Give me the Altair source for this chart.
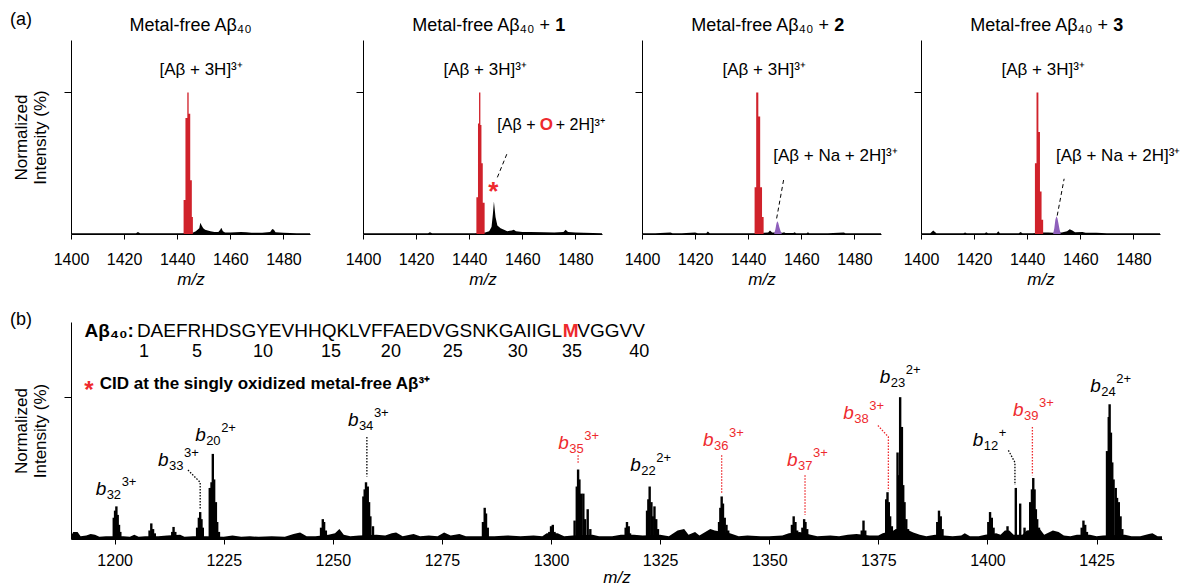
import altair as alt
import pandas as pd

FONT = "Liberation Sans"
RED = "#d0222b"
RED_TXT = "#ee2a2e"
PURPLE = "#8e5fbb"
BLACK = "#000000"

TOP_W, TOP_H = 239, 194
BOT_W, BOT_H = 1091, 217

TOP_X_DOMAIN = [1400, 1490]
TOP_X_TICKS = [1400, 1420, 1440, 1460, 1480]
TOP_Y_DOMAIN = [0, 137]
BOT_X_DOMAIN = [1190, 1440]
BOT_X_TICKS = [1200, 1225, 1250, 1275, 1300, 1325, 1350, 1375, 1400, 1425]
BOT_Y_DOMAIN = [0, 153]
Y_TICKS = [100]
Y_TITLE = ["Normalized", "Intensity (%)"]

# ---------------- top row data ----------------
P1_MZ = [1400, 1410, 1420, 1424.5, 1425.2, 1426, 1435, 1442, 1446, 1447, 1448.3, 1448.7, 1449.2, 1449.8,
         1450.5, 1451.5, 1452.5, 1454, 1455.5, 1456.2, 1456.6, 1457.2, 1458, 1460, 1462, 1464, 1466,
         1468, 1472, 1475, 1475.8, 1476.4, 1477, 1480, 1485, 1490]
P1_I = [0.5, 0.5, 0.6, 0.6, 1.5, 0.6, 0.6, 0.6, 1, 2, 4, 8, 6, 4,
        3, 2.5, 2, 1.5, 1.5, 3, 4.5, 2, 1, 1, 1.2, 1.5, 1.2,
        0.8, 0.8, 1.5, 3.5, 3, 1.2, 0.8, 0.6, 0.5]
P1_RED_X0 = [1442.4, 1443.1, 1443.8, 1444.3, 1444.9, 1445.5]
P1_RED_X1 = [1443.1, 1443.8, 1444.3, 1444.9, 1445.5, 1445.9]
P1_RED_I = [24, 82, 100, 85, 38, 12]

P2_MZ = [1400, 1410, 1420, 1424.5, 1425.2, 1426, 1435, 1442, 1446, 1447.5, 1448.4, 1448.9, 1449.3, 1449.9,
         1450.6, 1451.8, 1453.1, 1454.3, 1456.0, 1456.8, 1457.6, 1460, 1463.1, 1468.1, 1472, 1475.5,
         1476.3, 1477.2, 1480, 1483.2, 1490]
P2_I = [0.5, 0.5, 0.6, 0.6, 1.2, 0.6, 0.6, 0.6, 1, 2, 5, 14, 23, 12,
        6, 4, 3, 2, 2.5, 3, 2, 1.5, 1.5, 1.2, 1, 1.5,
        3, 1.5, 1, 0.8, 0.6]
P2_RED_X0 = [1442.7, 1443.3, 1443.7, 1444.2, 1444.6, 1445.1]
P2_RED_X1 = [1443.3, 1443.7, 1444.2, 1444.6, 1445.1, 1445.8]
P2_RED_I = [26, 78, 100, 77, 50, 22]

P3_MZ = [1400, 1405, 1410.7, 1411.5, 1415, 1420, 1421, 1424.2, 1424.8, 1425.5, 1430, 1435, 1442, 1446,
         1447.5, 1448.2, 1449, 1453, 1453.5, 1454, 1457, 1457.5, 1458, 1462, 1462.5, 1463, 1466, 1470,
         1476, 1476.6, 1477, 1482, 1490]
P3_I = [0.5, 0.5, 1, 0.5, 0.5, 1, 0.5, 0.5, 1.8, 0.5, 0.5, 0.5, 0.5, 0.8,
        1, 2.4, 1, 0.8, 1.3, 0.7, 0.7, 1.2, 0.6, 0.6, 1.2, 0.6, 0.5, 0.5,
        1, 0.5, 0.5, 0.5, 0.5]
P3_RED_X0 = [1442.4, 1443.0, 1443.8, 1444.5, 1445.2]
P3_RED_X1 = [1443.0, 1443.8, 1444.5, 1445.2, 1445.8]
P3_RED_I = [33, 100, 83, 33, 12]
P3_PUR_MZ = [1449.8, 1450.2, 1450.6, 1450.9, 1451.3, 1451.7, 1452.2, 1452.6]
P3_PUR_I = [0.5, 3, 7, 9, 8, 5, 2, 0.5]

P4_MZ = [1400, 1403.5, 1404.6, 1405.8, 1410, 1416, 1416.6, 1417.2, 1424, 1424.6, 1425.2, 1428.5, 1429.1,
         1429.7, 1436.8, 1437.5, 1438.2, 1442, 1446, 1448, 1449.5, 1453, 1455, 1456, 1457, 1458, 1460.8,
         1462, 1466, 1470, 1480, 1490]
P4_I = [0.5, 0.6, 2.4, 0.6, 0.5, 0.5, 1, 0.5, 0.5, 1.3, 0.5, 0.6, 2,
        0.6, 0.6, 1.5, 0.6, 0.5, 1, 1, 0.8, 1, 2, 3.3, 2.5, 1.2, 1.5,
        0.8, 0.8, 0.6, 0.5, 0.5]
P4_RED_X0 = [1442.9, 1443.5, 1444.2, 1444.8, 1445.4]
P4_RED_X1 = [1443.5, 1444.2, 1444.8, 1445.4, 1446.0]
P4_RED_I = [50, 100, 72, 30, 10]
P4_PUR_MZ = [1449.8, 1450.2, 1450.6, 1451.0, 1451.4, 1451.8, 1452.2, 1452.6]
P4_PUR_I = [0.5, 4, 10, 12.5, 11, 7, 3, 0.5]

MAIN_LABEL = "[Aβ + 3H]³⁺"
MAIN_LABEL_MZ = [1449, 1446, 1446, 1446]
MAIN_LABEL_I = 116
TITLE_MAIN = "Metal-free Aβ₄₀"
TITLE_PLUS = "Metal-free Aβ₄₀ +"
TITLE_BOLD = ["", "1", "2", "3"]
TITLE_I = 147

# dashed leader lines of the top row (panels 2-4)
DASH_X0 = [1450.6, 1450.7, 1451.3]
DASH_I0 = [40, 11, 13]
DASH_X1 = [1454.5, 1453.5, 1453.9]
DASH_I1 = [58, 40, 39]

OX_PARTS = ["[Aβ +", "O", "+ 2H]³⁺"]
OX_MZ = [1450.6, 1466.6, 1472.6]
OX_I = 77
NA_LABEL = "[Aβ + Na + 2H]³⁺"
NA_MZ = [1449.4, 1450.8]
NA_I = [55, 55]
STAR_MZ, STAR_I = 1449.1, 35

# ---------------- bottom data ----------------
BASE_MZ = [1190, 1190.5, 1191.5, 1192.2, 1193.5, 1194.5, 1195.5, 1196.5, 1198, 1202, 1203.5, 1204.5, 1205.5,
           1207, 1210, 1212, 1215, 1216, 1218, 1221, 1225, 1227, 1229, 1231, 1233, 1236, 1239, 1241,
           1242.5, 1244, 1246, 1249, 1250.5, 1251.5, 1252.5, 1254, 1256, 1260, 1262, 1263.5, 1264.5, 1266,
           1268.5, 1270, 1272, 1274, 1275.5, 1277, 1279, 1280.5, 1283, 1287, 1290, 1293, 1296, 1298, 1299,
           1301.5, 1303, 1305, 1309.5, 1311, 1314, 1316, 1319, 1321, 1325, 1327, 1329, 1330.5, 1331.5, 1333,
           1334, 1336.5, 1337.5, 1341, 1343, 1345, 1348, 1350, 1353, 1354.5, 1357, 1359.5, 1361, 1364, 1366,
           1368, 1370, 1373, 1375, 1376, 1378.5, 1379, 1382, 1383, 1384.5, 1386, 1388, 1390, 1392, 1394,
           1394.8, 1396, 1398, 1399.5, 1402, 1403, 1404, 1405, 1406, 1408, 1409, 1412, 1413, 1415, 1416.3,
           1417.5, 1419, 1420.5, 1423.5, 1425, 1426.5, 1431.5, 1433, 1435, 1437, 1437.8, 1439, 1440]
BASE_I = [2, 5, 5, 2, 2.5, 3.5, 3, 1.5, 2, 2, 1.5, 3, 1.5,
          2, 2, 2.5, 3, 1.5, 2, 2, 1.5, 2.5, 1.5, 2, 1.5, 2, 1.5, 3.5,
          4.5, 2, 2, 3, 4, 7, 3, 2, 2.5, 3, 2.5, 4, 4.5, 2,
          3.5, 2, 2.5, 2, 4.5, 2.5, 3.5, 2, 2, 2, 2.5, 2, 2.5, 2, 4,
          4, 2, 2.5, 3, 2, 2, 3, 3, 2.5, 3, 2, 6, 7, 3, 5,
          2.5, 7, 6, 4, 2, 2.5, 2, 2, 2.5, 4, 5, 3, 2, 2.5, 2,
          3, 3.5, 2.5, 2.5, 4, 6, 7, 6, 4.5, 3, 2, 3, 2.5, 2, 2.5,
          4, 2, 2, 3, 4, 3, 6, 6, 3, 3, 6, 7, 3, 6, 5,
          2.5, 2, 3, 3, 2, 2.5, 3, 2, 2, 3.5, 4, 2, 2]

STICK_MZ = [1199.8, 1200.1, 1200.4, 1200.7, 1201.0, 1201.3,
            1208.0, 1208.4, 1208.8, 1209.2,
            1213.2, 1213.5, 1213.9,
            1218.9, 1219.3, 1219.6, 1219.9, 1220.2,
            1221.8, 1222.2, 1222.5, 1222.8, 1223.2, 1223.5, 1223.9,
            1247.3, 1247.7, 1248.0, 1248.4,
            1257.0, 1257.3, 1257.6, 1258.0, 1258.3, 1258.6, 1259.2,
            1284.4, 1284.8, 1285.1, 1285.5,
            1299.6, 1300.0, 1300.4, 1300.8,
            1305.4, 1305.9, 1306.2, 1306.5, 1306.9, 1307.4, 1307.8, 1308.4, 1309.0,
            1317.1, 1317.4, 1317.8, 1318.1,
            1322.0, 1322.3, 1322.6, 1323.0, 1323.3, 1323.7, 1324.1, 1324.5,
            1338.5, 1338.8, 1339.1, 1339.4, 1339.8, 1340.2, 1340.6,
            1355.2, 1355.6, 1356.0, 1356.4,
            1357.6, 1358.0, 1358.3, 1358.7,
            1371.2, 1371.6, 1372.0,
            1376.8, 1377.1, 1377.4, 1377.7, 1378.1,
            1379.4, 1379.7, 1380.0, 1380.4, 1380.7, 1381.0, 1381.4, 1381.8,
            1388.5, 1388.9, 1389.3, 1389.7,
            1400.2, 1400.6, 1401.0, 1401.4,
            1404.2, 1404.6, 1405.0,
            1406.5, 1407.5, 1408.5,
            1409.8, 1410.2, 1410.5, 1410.8, 1411.1, 1411.4, 1411.8,
            1421.6, 1422.0, 1422.4, 1422.8,
            1427.4, 1427.8, 1428.0, 1428.3, 1428.6, 1428.9, 1429.4, 1429.7, 1430.1, 1430.5, 1430.9]
STICK_I = [15, 20, 23, 17, 10, 5,
           6, 11, 7, 4,
           5, 8.5, 5,
           8, 15, 19, 14, 8,
           36, 40, 60, 42, 26, 12, 5,
           8, 14, 12, 6,
           30, 35, 40, 37, 26, 16, 9,
           12, 22, 18, 8,
           5, 9, 10, 5,
           13, 37, 49, 42, 32, 32, 14, 21, 7,
           8, 12, 9, 4,
           20, 28, 37, 26, 16, 23, 14, 7,
           12, 22, 30, 25, 15, 10, 6,
           10, 16, 12, 6,
           8, 14, 12, 7,
           6, 13, 6,
           28, 33, 26, 16, 9,
           61, 45, 100, 79, 38, 26, 14, 7,
           12, 20, 16, 7,
           12, 19, 15, 8,
           5, 9, 5,
           36, 25, 8,
           26, 35, 43, 35, 21, 14, 8,
           8, 13, 10, 5,
           62, 86, 95, 75, 54, 42, 36, 29, 26, 16, 7]

# fragment labels: italic "b", subscript index, superscript charge
B_LABEL_SUB = ["32", "33", "20", "34", "35", "22", "36", "37", "38", "23", "12", "39", "24"]
B_LABEL_SUP = ["3+", "3+", "2+", "3+", "3+", "2+", "3+", "3+", "3+", "2+", "+", "3+", "2+"]
B_LABEL_MZ = [1200.0, 1214.3, 1222.8, 1257.8, 1306.0, 1322.5, 1339.2, 1358.4, 1371.3, 1379.7, 1401.0, 1410.2, 1427.9]
B_LABEL_I = [35, 56, 73, 84, 68, 52, 70, 56, 89, 114, 70, 91, 108]
B_LABEL_RED = [0, 0, 0, 0, 1, 0, 1, 1, 1, 0, 0, 1, 0]

LEAD_ID = ["b33", "b33", "b33", "b34", "b34", "b35", "b35", "b36", "b36", "b37", "b37",
           "b38", "b38", "b38", "b12", "b12", "b12", "b39", "b39"]
LEAD_MZ = [1216.8, 1219.6, 1219.6, 1257.8, 1257.8, 1306.2, 1306.2, 1339.1, 1339.1, 1358.2, 1358.2,
           1374.9, 1377.3, 1377.3, 1404.8, 1406.3, 1406.3, 1410.3, 1410.3]
LEAD_I = [48.6, 40, 20.4, 72, 44, 59, 53, 59, 32, 45, 17,
          80, 72, 34, 62.5, 54, 38, 79, 45]
LEAD_RED = [0, 0, 0, 0, 0, 1, 1, 1, 1, 1, 1, 1, 1, 1, 0, 0, 0, 1, 1]

SEQ_HEAD = "Aβ₄₀:"
SEQ_PARTS = ["DAEFRHDSGYEVHHQKLVFFAEDVGSNKGAIIGL", "M", "VGGVV"]
SEQ_MZ = [1205.1, 1302.7, 1306.0]
SEQ_I = 147
SEQ_NUM = ["1", "5", "10", "15", "20", "25", "30", "35", "40"]
SEQ_NUM_MZ = [1206.7, 1218.9, 1234.0, 1249.6, 1263.3, 1277.5, 1292.4, 1304.8, 1320.2]
SEQ_NUM_I = 132
CID_TEXT = "CID at the singly oxidized metal-free Aβ³⁺"
CID_MZ, CID_STAR_MZ, CID_I = 1196.6, 1194.1, 109


# ---------------- helpers ----------------
def x_axis(ticks, lab_pad, title_pad):
    return alt.Axis(values=ticks, format="d", title="m/z", titleFontStyle="italic",
                    titleFontWeight="normal", titleFontSize=17, labelFontSize=16, tickSize=5,
                    labelPadding=lab_pad, titlePadding=title_pad, grid=False, labelOverlap=False,
                    labelFlush=False)


def y_axis(with_title):
    if with_title:
        return alt.Axis(values=Y_TICKS, labels=False, tickSize=7, grid=False, title=Y_TITLE,
                        titleFontSize=17, titleFontWeight="normal", titlePadding=14,
                        titleLineHeight=19)
    return alt.Axis(values=Y_TICKS, labels=False, tickSize=7, grid=False, title=None)


def text_layer(df, **kw):
    return alt.Chart(df).mark_text(font=FONT, baseline="middle", **kw).encode(
        x="mz:Q", y="I:Q", text="t:N")


def top_panel(k, bmz, bi, rx0, rx1, ri, pmz=None, pi=None):
    xs = alt.Scale(domain=TOP_X_DOMAIN, nice=False, zero=False)
    ys = alt.Scale(domain=TOP_Y_DOMAIN, nice=False)
    base = alt.Chart(pd.DataFrame({"mz": bmz, "I": bi})).mark_area(color=BLACK).encode(
        x=alt.X("mz:Q", scale=xs, axis=x_axis(TOP_X_TICKS, 12, 4)),
        y=alt.Y("I:Q", scale=ys, axis=y_axis(k == 0)))
    layers = [base]
    # red isotope envelope as a step area: each level holds from x0 to the next edge
    red_df = pd.DataFrame({"mz": list(rx0) + [rx1[-1]], "I": list(ri) + [0]})
    red = alt.Chart(red_df).mark_area(color=RED, interpolate="step-after").encode(x="mz:Q", y="I:Q")
    layers.append(red)
    if pmz is not None:
        pur = alt.Chart(pd.DataFrame({"mz": pmz, "I": pi})).mark_area(color=PURPLE).encode(
            x="mz:Q", y="I:Q")
        layers.append(pur)
    layers.append(text_layer(pd.DataFrame({"mz": [MAIN_LABEL_MZ[k]], "I": [MAIN_LABEL_I], "t": [MAIN_LABEL]}),
                             fontSize=17, align="center"))
    if k == 0:
        layers.append(text_layer(pd.DataFrame({"mz": [1445], "I": [TITLE_I], "t": [TITLE_MAIN]}),
                                 fontSize=18, align="center"))
        layers.append(alt.Chart(pd.DataFrame({"t": ["(a)"]})).mark_text(
            font=FONT, fontSize=18, align="left", baseline="middle").encode(
            x=alt.value(-61), y=alt.value(-20), text="t:N"))
    else:
        layers.append(text_layer(pd.DataFrame({"mz": [1470.4], "I": [TITLE_I], "t": [TITLE_PLUS]}),
                                 fontSize=18, align="right"))
        layers.append(text_layer(pd.DataFrame({"mz": [1472.4], "I": [TITLE_I], "t": [TITLE_BOLD[k]]}),
                                 fontSize=18, align="left", fontWeight="bold"))
        j = k - 1
        layers.append(alt.Chart(pd.DataFrame({"mz": [DASH_X0[j]], "I": [DASH_I0[j]],
                                              "mz2": [DASH_X1[j]], "I2": [DASH_I1[j]]}))
                      .mark_rule(color=BLACK, strokeDash=[4, 3], strokeWidth=1)
                      .encode(x="mz:Q", y="I:Q", x2="mz2:Q", y2="I2:Q"))
    if k == 1:
        layers.append(text_layer(pd.DataFrame({"mz": [OX_MZ[0], OX_MZ[2]], "I": [OX_I, OX_I],
                                               "t": [OX_PARTS[0], OX_PARTS[2]]}),
                                 fontSize=16, align="left"))
        layers.append(text_layer(pd.DataFrame({"mz": [OX_MZ[1]], "I": [OX_I], "t": [OX_PARTS[1]]}),
                                 fontSize=17, align="left", fontWeight="bold", color=RED_TXT))
        layers.append(text_layer(pd.DataFrame({"mz": [STAR_MZ], "I": [STAR_I], "t": ["*"]}),
                                 fontSize=26, align="center", fontWeight="bold", color=RED_TXT, dy=8))
    if k >= 2:
        layers.append(text_layer(pd.DataFrame({"mz": [NA_MZ[k - 2]], "I": [NA_I[k - 2]], "t": [NA_LABEL]}),
                                 fontSize=17, align="left"))
    return alt.layer(*layers).properties(width=TOP_W, height=TOP_H)


p1 = top_panel(0, P1_MZ, P1_I, P1_RED_X0, P1_RED_X1, P1_RED_I)
p2 = top_panel(1, P2_MZ, P2_I, P2_RED_X0, P2_RED_X1, P2_RED_I)
p3 = top_panel(2, P3_MZ, P3_I, P3_RED_X0, P3_RED_X1, P3_RED_I, P3_PUR_MZ, P3_PUR_I)
p4 = top_panel(3, P4_MZ, P4_I, P4_RED_X0, P4_RED_X1, P4_RED_I, P4_PUR_MZ, P4_PUR_I)

# ---------------- bottom panel ----------------
bxs = alt.Scale(domain=BOT_X_DOMAIN, nice=False, zero=False)
bys = alt.Scale(domain=BOT_Y_DOMAIN, nice=False)
b_base = alt.Chart(pd.DataFrame({"mz": BASE_MZ, "I": BASE_I})).mark_area(color=BLACK).encode(
    x=alt.X("mz:Q", scale=bxs, axis=x_axis(BOT_X_TICKS, 8, 1)),
    y=alt.Y("I:Q", scale=bys, axis=y_axis(True)))
b_sticks = alt.Chart(pd.DataFrame({"mz": STICK_MZ, "I": STICK_I})).mark_rule(
    color=BLACK, strokeWidth=2.4).encode(x="mz:Q", y="I:Q", y2=alt.datum(0))

lab_df = pd.DataFrame({"mz": B_LABEL_MZ, "I": B_LABEL_I, "sub": B_LABEL_SUB, "sup": B_LABEL_SUP,
                       "b": ["b"] * len(B_LABEL_MZ),
                       "c": [RED_TXT if r else BLACK for r in B_LABEL_RED]})
lab_base = alt.Chart(lab_df)
b_lab_b = lab_base.mark_text(font=FONT, fontSize=19, fontStyle="italic", baseline="middle",
                             align="left", dx=-19).encode(
    x="mz:Q", y="I:Q", text="b:N", color=alt.Color("c:N", scale=None))
b_lab_sub = lab_base.mark_text(font=FONT, fontSize=13, baseline="middle", align="left",
                               dx=-8, dy=6).encode(
    x="mz:Q", y="I:Q", text="sub:N", color=alt.Color("c:N", scale=None))
b_lab_sup = lab_base.mark_text(font=FONT, fontSize=13, baseline="middle", align="left",
                               dx=7, dy=-7).encode(
    x="mz:Q", y="I:Q", text="sup:N", color=alt.Color("c:N", scale=None))

lead_df = pd.DataFrame({"id": LEAD_ID, "mz": LEAD_MZ, "I": LEAD_I, "k": list(range(len(LEAD_ID))),
                        "c": [RED_TXT if r else BLACK for r in LEAD_RED]})
b_leads = alt.Chart(lead_df).mark_line(strokeDash=[1.5, 1.5], strokeWidth=1.3).encode(
    x="mz:Q", y="I:Q", detail="id:N", order="k:Q", color=alt.Color("c:N", scale=None))

seq_head = text_layer(pd.DataFrame({"mz": [SEQ_MZ[0] - 0.7], "I": [SEQ_I], "t": [SEQ_HEAD]}),
                      fontSize=19, align="right", fontWeight="bold")
seq_a = text_layer(pd.DataFrame({"mz": [SEQ_MZ[0], SEQ_MZ[2]], "I": [SEQ_I, SEQ_I],
                                 "t": [SEQ_PARTS[0], SEQ_PARTS[2]]}), fontSize=19, align="left")
seq_m = text_layer(pd.DataFrame({"mz": [SEQ_MZ[1]], "I": [SEQ_I], "t": [SEQ_PARTS[1]]}),
                   fontSize=19, align="left", fontWeight="bold", color=RED_TXT)
seq_num = text_layer(pd.DataFrame({"mz": SEQ_NUM_MZ, "I": [SEQ_NUM_I] * len(SEQ_NUM), "t": SEQ_NUM}),
                     fontSize=18, align="center")
cid_star = text_layer(pd.DataFrame({"mz": [CID_STAR_MZ], "I": [CID_I], "t": ["*"]}),
                      fontSize=24, align="center", fontWeight="bold", color=RED_TXT, dy=7)
cid_txt = text_layer(pd.DataFrame({"mz": [CID_MZ], "I": [CID_I], "t": [CID_TEXT]}),
                     fontSize=17, align="left", fontWeight="bold")
b_tag = alt.Chart(pd.DataFrame({"t": ["(b)"]})).mark_text(
    font=FONT, fontSize=18, align="left", baseline="middle").encode(
    x=alt.value(-61), y=alt.value(-2), text="t:N")

bottom = alt.layer(b_base, b_sticks, b_leads, b_lab_b, b_lab_sub, b_lab_sup, seq_head, seq_a, seq_m,
                   seq_num, cid_star, cid_txt, b_tag).properties(width=BOT_W, height=BOT_H)

top_right = alt.hconcat(p2, p3, p4, spacing=40, bounds="flush")
top = alt.hconcat(p1, top_right, spacing=53, bounds="flush")
chart = alt.vconcat(top, bottom, spacing=24).properties(
    padding={"left": 10, "top": 11, "right": 0, "bottom": 0}
).configure_view(stroke=None).configure_axis(
    domainColor=BLACK, tickColor=BLACK, labelColor=BLACK, titleColor=BLACK,
    labelFont=FONT, titleFont=FONT, domainWidth=1, tickWidth=1
).configure_text(font=FONT)

chart.save("out.html", embed_options={"renderer": "svg", "actions": False})
